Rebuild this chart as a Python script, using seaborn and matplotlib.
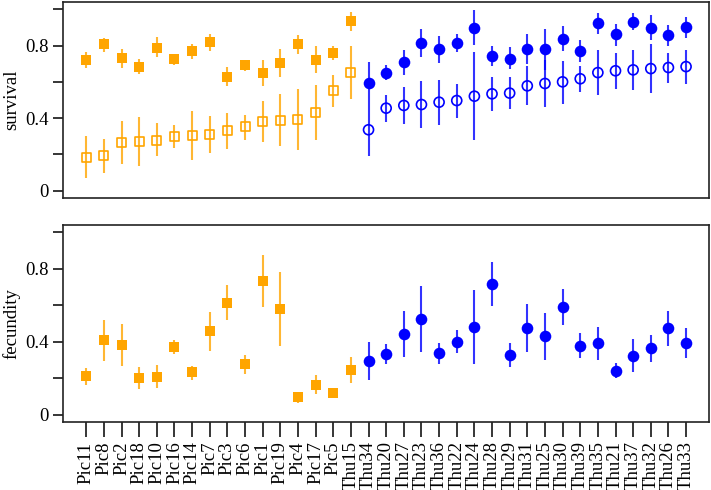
import numpy as np
import pandas as pd
import seaborn as sns
import matplotlib.pyplot as plt

sites = ["Pic11", "Pic8", "Pic2", "Pic18", "Pic10", "Pic16", "Pic14", "Pic7", "Pic3",
         "Pic6", "Pic1", "Pic19", "Pic4", "Pic17", "Pic5", "Thu15", "Thu34", "Thu20",
         "Thu27", "Thu23", "Thu36", "Thu22", "Thu24", "Thu28", "Thu29", "Thu31", "Thu25",
         "Thu30", "Thu39", "Thu35", "Thu21", "Thu37", "Thu32", "Thu26", "Thu33"]
lineage = ["A"] * 16 + ["B"] * 19

# survival, filled markers
surv_fill = [0.721, 0.806, 0.730, 0.684, 0.789, 0.727, 0.771, 0.820, 0.629, 0.692, 0.651,
             0.706, 0.806, 0.721, 0.761, 0.934, 0.594, 0.651, 0.710, 0.815, 0.780, 0.815,
             0.899, 0.741, 0.728, 0.782, 0.780, 0.837, 0.772, 0.923, 0.861, 0.930, 0.897,
             0.857, 0.901]
surv_fill_lo = [0.675, 0.763, 0.675, 0.644, 0.736, 0.692, 0.727, 0.772, 0.578, 0.661, 0.578,
                0.629, 0.752, 0.648, 0.721, 0.879, 0.483, 0.611, 0.640, 0.739, 0.706, 0.763,
                0.804, 0.688, 0.670, 0.699, 0.666, 0.771, 0.712, 0.864, 0.798, 0.883, 0.828,
                0.798, 0.844]
surv_fill_hi = [0.767, 0.844, 0.783, 0.727, 0.846, 0.754, 0.807, 0.866, 0.681, 0.721, 0.721,
                0.780, 0.857, 0.796, 0.798, 0.983, 0.708, 0.692, 0.776, 0.890, 0.853, 0.864,
                0.996, 0.796, 0.791, 0.862, 0.892, 0.905, 0.831, 0.978, 0.919, 0.978, 0.969,
                0.914, 0.956]

# survival, open markers
surv_open = [0.185, 0.194, 0.266, 0.273, 0.279, 0.297, 0.303, 0.312, 0.330, 0.352, 0.383,
             0.389, 0.393, 0.429, 0.554, 0.653, 0.336, 0.455, 0.470, 0.475, 0.488, 0.497,
             0.521, 0.534, 0.538, 0.578, 0.591, 0.600, 0.617, 0.651, 0.661, 0.666, 0.673,
             0.679, 0.684]
surv_open_lo = [0.070, 0.099, 0.147, 0.139, 0.189, 0.233, 0.167, 0.207, 0.231, 0.281, 0.266,
                0.244, 0.222, 0.279, 0.464, 0.506, 0.189, 0.378, 0.367, 0.345, 0.363, 0.402,
                0.277, 0.440, 0.450, 0.470, 0.461, 0.479, 0.545, 0.525, 0.563, 0.556, 0.539,
                0.594, 0.589]
surv_open_hi = [0.303, 0.284, 0.385, 0.409, 0.372, 0.360, 0.437, 0.411, 0.428, 0.420, 0.495,
                0.532, 0.561, 0.583, 0.640, 0.798, 0.483, 0.528, 0.574, 0.605, 0.611, 0.589,
                0.767, 0.629, 0.629, 0.688, 0.721, 0.716, 0.688, 0.776, 0.758, 0.776, 0.809,
                0.761, 0.776]

# fecundity
fec = [0.210, 0.408, 0.382, 0.201, 0.208, 0.371, 0.232, 0.457, 0.614, 0.276, 0.731, 0.578,
       0.095, 0.165, 0.117, 0.245, 0.296, 0.335, 0.442, 0.525, 0.336, 0.400, 0.483, 0.715,
       0.327, 0.475, 0.430, 0.589, 0.378, 0.391, 0.241, 0.324, 0.364, 0.473, 0.395]
fec_lo = [0.163, 0.296, 0.267, 0.141, 0.144, 0.333, 0.192, 0.349, 0.519, 0.221, 0.592, 0.377,
          0.064, 0.112, 0.090, 0.172, 0.190, 0.278, 0.316, 0.344, 0.276, 0.338, 0.280, 0.596,
          0.263, 0.342, 0.302, 0.492, 0.309, 0.302, 0.199, 0.232, 0.291, 0.378, 0.313]
fec_hi = [0.258, 0.521, 0.497, 0.263, 0.272, 0.410, 0.269, 0.565, 0.709, 0.329, 0.874, 0.781,
          0.126, 0.218, 0.139, 0.316, 0.400, 0.388, 0.570, 0.706, 0.393, 0.463, 0.684, 0.835,
          0.391, 0.607, 0.556, 0.687, 0.446, 0.483, 0.282, 0.413, 0.437, 0.570, 0.477]

df = pd.DataFrame({
    "site": sites, "lineage": lineage, "pos": np.arange(len(sites)),
    "sf": surv_fill, "sf_lo": surv_fill_lo, "sf_hi": surv_fill_hi,
    "so": surv_open, "so_lo": surv_open_lo, "so_hi": surv_open_hi,
    "fec": fec, "fec_lo": fec_lo, "fec_hi": fec_hi,
})

colors = {"A": "#FFA500", "B": "#0000FF"}
fill_marker = {"A": "s", "B": "o"}
fill_size = {"A": 60, "B": 70}
open_size = {"A": 42, "B": 52}

plt.rcParams["font.family"] = ["Liberation Serif", "DejaVu Serif"]
plt.rcParams["font.size"] = 13.5

fig = plt.figure(figsize=(7.11, 4.9), dpi=100)
ax1 = fig.add_axes([63 / 711, 1 - 198 / 490, 646 / 711, 196 / 490])
ax2 = fig.add_axes([63 / 711, 1 - 422 / 490, 646 / 711, 197 / 490])


def whiskers(ax, d, lo, hi):
    for g, sub in d.groupby("lineage"):
        ax.vlines(sub["pos"], sub[lo], sub[hi], color=colors[g], lw=1.5, alpha=0.8, zorder=2)


def points(ax, d, col, filled=True):
    for g, sub in d.groupby("lineage"):
        n0 = len(ax.collections)
        sns.scatterplot(data=sub, x="pos", y=col, ax=ax, marker=fill_marker[g],
                        color=colors[g], s=fill_size[g] if filled else open_size[g],
                        linewidth=0 if filled else 1.2, zorder=3, legend=False)
        coll = ax.collections[n0]
        if filled:
            coll.set_edgecolor(colors[g])
        else:
            coll.set_facecolor("none")
            coll.set_edgecolor(colors[g])


whiskers(ax1, df, "so_lo", "so_hi")
whiskers(ax1, df, "sf_lo", "sf_hi")
points(ax1, df, "so", filled=False)
points(ax1, df, "sf", filled=True)

whiskers(ax2, df, "fec_lo", "fec_hi")
points(ax2, df, "fec", filled=True)

for ax, lab in [(ax1, "survival"), (ax2, "fecundity")]:
    ax.set_xlim(-1.32, 35.3)
    ax.set_ylim(-0.04, 1.04)
    ax.set_yticks([0, 0.2, 0.4, 0.6, 0.8, 1.0])
    ax.set_yticklabels(["0", "", "0.4", "", "0.8", ""])
    ax.set_ylabel(lab, labelpad=3)
    ax.tick_params(axis="y", length=7, width=1.1, pad=3.5)
    for sp in ax.spines.values():
        sp.set_linewidth(1.2)
        sp.set_color("#222222")

ax1.set_xticks([])
ax1.set_xlabel("")
ax2.set_xticks(df["pos"])
ax2.set_xticklabels(df["site"], rotation=90)
ax2.tick_params(axis="x", length=11, width=1.1, pad=3)
ax2.set_xlabel("")

fig.savefig("out.png", dpi=100)
